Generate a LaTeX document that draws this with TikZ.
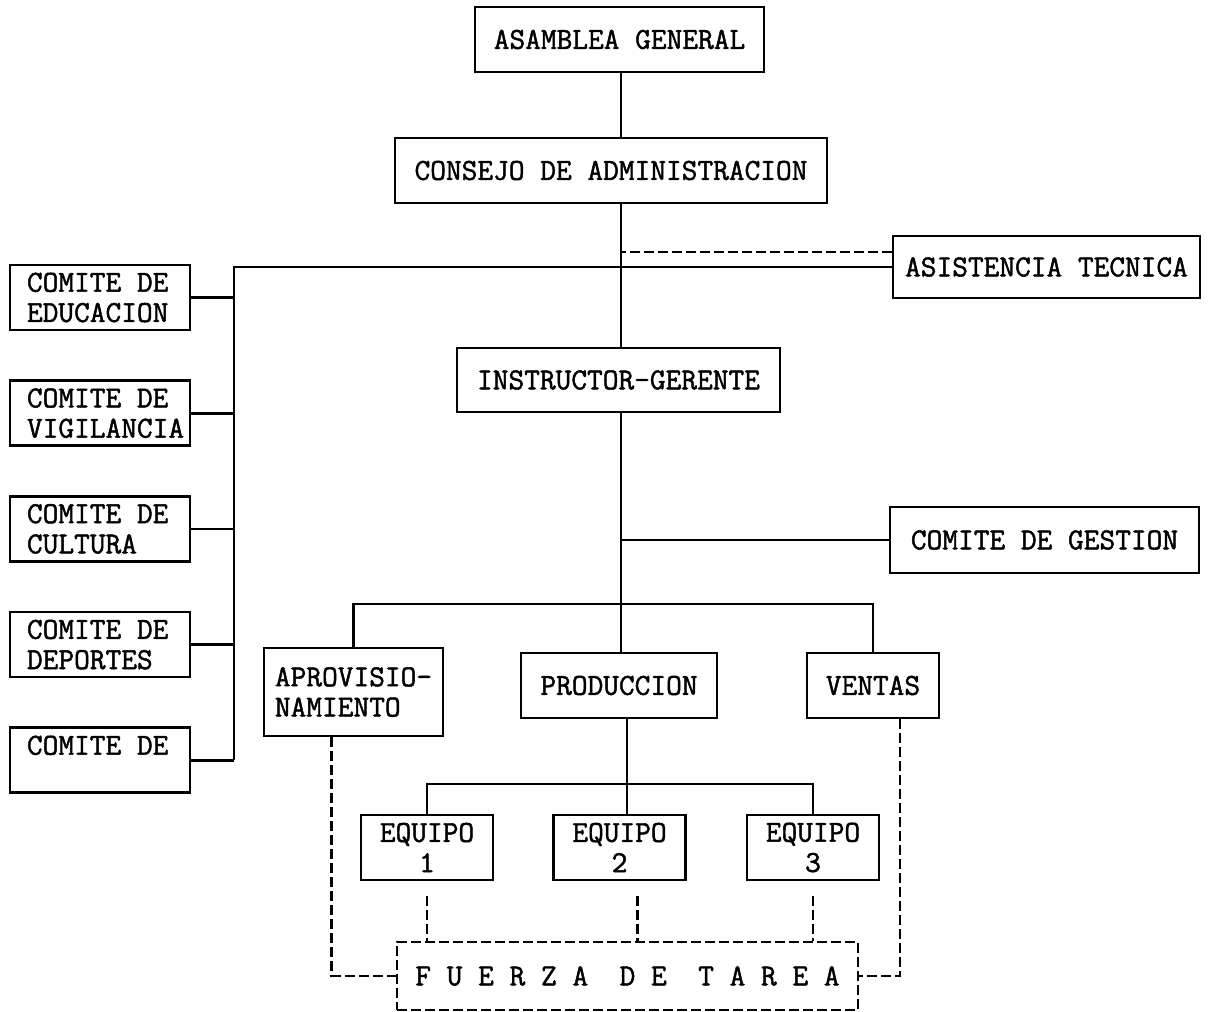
\documentclass[tikz,border=0pt]{standalone}
\usepackage{fontspec}
\setmonofont{Latin Modern Mono}[FakeBold=1.5]
\usetikzlibrary{positioning, calc}

\begin{document}
\begin{tikzpicture}[x=0.025cm, y=-0.025cm, font=\ttfamily\fontsize{21.7}{21.5}\selectfont,
    link/.style={line width=1.9pt},
    dlink/.style={line width=1.9pt, dash pattern=on 0.25cm off 0.1cm},
    box/.style={draw, line width=1.9pt, minimum height=1.625cm, align=center, inner sep=0pt},
    comite/.style={box, text width=3.65cm, align=flush left, inner xsep=0.425cm}]
    \useasboundingbox (0,0) rectangle (1217,1012);
    % direccion
    \node[box, minimum width=7.225cm] (asamblea) at (619.5,39.5) {ASAMBLEA GENERAL};
    \node[box, minimum width=10.8cm] (consejo) at (611,170.5) {CONSEJO DE ADMINISTRACION};
    \node[box, minimum width=7.675cm, minimum height=1.55cm] (asistencia) at (1046.5,267) {ASISTENCIA TECNICA};
    \node[box, minimum width=8.075cm, minimum height=1.6cm] (instructor) at (618.5,380) {INSTRUCTOR-GERENTE};
    \node[box, minimum width=7.725cm, minimum height=1.65cm] (gestion) at (1044.5,540) {COMITE DE GESTION};
    % comites
    \node[comite] (educacion) at (100,297.5) {COMITE DE\\EDUCACION};
    \node[comite, below=1.2cm of educacion] (vigilancia) {COMITE DE\\VIGILANCIA};
    \node[comite, below=1.2cm of vigilancia] (cultura) {COMITE DE\\CULTURA};
    \node[comite, below=1.2cm of cultura] (deportes) {COMITE DE\\DEPORTES};
    \node[comite, below=1.2cm of deportes] (otro) {COMITE DE\\\mbox{}};
    % areas
    \node[box, align=left, minimum width=4.475cm, minimum height=2.2cm] (aprov) at (353.5,692) {APROVISIO-\\NAMIENTO};
    \node[box, minimum width=4.9cm] (produccion) at (619,685.5) {PRODUCCION};
    \node[box, minimum width=3.3cm] (ventas) at (873,685.5) {VENTAS};
    \node[box, minimum width=3.3cm] (eq1) at (427,847.5) {EQUIPO\\1};
    \node[box, minimum width=3.3cm] (eq2) at (619.5,847.5) {EQUIPO\\2};
    \node[box, minimum width=3.3cm] (eq3) at (813,847.5) {EQUIPO\\3};
    \node[box, dash pattern=on 0.25cm off 0.1cm, minimum width=11.525cm, minimum height=1.7cm] (fuerza) at (627.5,976) {F U E R Z A~~D E~~T A R E A};
    % lineas
    \coordinate (spine) at (621,0);
    \coordinate (lbus) at (234,267);
    \coordinate (tbus) at (621,604);
    \coordinate (pbus) at (627,784);
    \coordinate (tecdash) at ([yshift=0.375cm]asistencia.west);
    \draw[link] (asamblea.south -| spine) -- (consejo.north -| spine);
    \draw[link] (consejo.south -| spine) -- (instructor.north -| spine);
    \draw[link] (instructor.south -| spine) -- (produccion.north -| spine);
    \draw[link] (asistencia.west) -- (lbus) -- (lbus |- otro.east);
    \draw[dlink] (tecdash) -- (tecdash -| spine);
    \draw[link] (educacion.east) -- (educacion.east -| lbus);
    \draw[link] (vigilancia.east) -- (vigilancia.east -| lbus);
    \draw[link] (cultura.east) -- (cultura.east -| lbus);
    \draw[link] (deportes.east) -- (deportes.east -| lbus);
    \draw[link] (otro.east) -- (otro.east -| lbus);
    \draw[link] (gestion.west) -- (gestion.west -| spine);
    \draw[link] (aprov.north) |- (tbus) -| (ventas.north);
    \draw[link] (pbus |- produccion.south) -- (pbus |- eq2.north);
    \draw[link] (eq1.north) |- (pbus) -| (eq3.north);
    % fuerza de tarea
    \draw[dlink] ([xshift=-0.55cm]aprov.south) |- (fuerza.west);
    \draw[dlink] ([xshift=0.675cm]ventas.south) |- (fuerza.east);
    \draw[dlink] ([yshift=-0.375cm]eq1.south) -- (eq1.south |- fuerza.north);
    \draw[dlink] ([xshift=0.45cm, yshift=-0.375cm]eq2.south) -- ([xshift=0.45cm]eq2.south |- fuerza.north);
    \draw[dlink] ([yshift=-0.375cm]eq3.south) -- (eq3.south |- fuerza.north);
\end{tikzpicture}
\end{document}
